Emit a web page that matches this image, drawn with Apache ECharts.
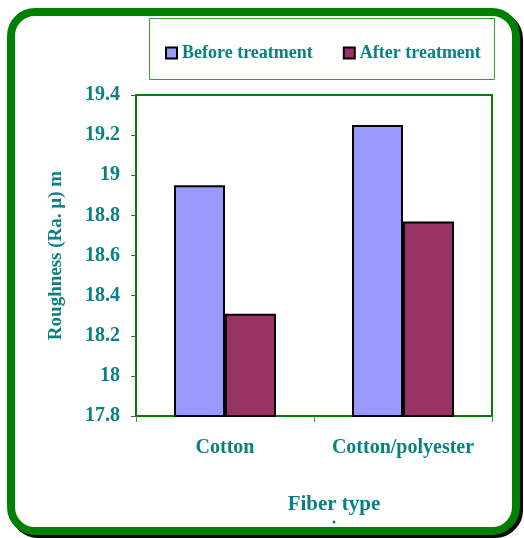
<!DOCTYPE html>
<html style="height: 100%">
<head>
    <meta charset="utf-8">
</head>
<body style="height: 100%; margin: 0; background: #fff">
<div id="container" style="width: 524px; height: 538px"></div>
<script type="text/javascript" src="https://cdn.jsdelivr.net/npm/echarts@6/dist/echarts.min.js"></script>
<script type="text/javascript">
    var categories = ['Cotton', 'Cotton/polyester'];
    var beforeValues = [18.95, 19.25];
    var afterValues = [18.31, 18.77];
    var seriesNames = ['Before treatment', 'After treatment'];

    var teal = '#0a8080';
    var green = '#008000';
    var font = 'Liberation Serif';

    var myChart = echarts.init(document.getElementById('container'));

    var option = {
        animation: false,
        textStyle: {fontFamily: font},
        grid: {
            left: 136, right: 32, top: 95, bottom: 122,
            show: true, borderColor: green, borderWidth: 2
        },
        legend: {
            data: seriesNames,
            left: 160, top: 39,
            icon: 'rect',
            itemWidth: 11, itemHeight: 11,
            itemGap: 30,
            textStyle: {color: teal, fontFamily: font, fontWeight: 'bold', fontSize: 18}
        },
        xAxis: {
            type: 'category',
            data: categories,
            name: 'Fiber type',
            nameLocation: 'middle',
            nameGap: 78,
            nameTextStyle: {color: teal, fontFamily: font, fontWeight: 'bold', fontSize: 21, padding: [0, 0, 0, 40]},
            axisLine: {lineStyle: {color: green, width: 2}},
            axisTick: {show: true, length: 6, lineStyle: {color: '#339933'}},
            axisLabel: {color: teal, fontFamily: font, fontWeight: 'bold', fontSize: 20, margin: 22,
                interval: 0, hideOverlap: false}
        },
        yAxis: {
            type: 'value',
            min: 17.8, max: 19.4, interval: 0.2,
            name: 'Roughness (Ra. \u00b5) m',
            nameLocation: 'middle',
            nameGap: 70,
            nameTextStyle: {color: teal, fontFamily: font, fontWeight: 'bold', fontSize: 19},
            axisLine: {show: true, lineStyle: {color: green, width: 2}},
            axisTick: {show: true, length: 5, lineStyle: {color: '#555555'}},
            splitLine: {show: false},
            axisLabel: {
                color: teal, fontFamily: font, fontWeight: 'bold', fontSize: 20, margin: 16,
                formatter: function (v) { return String(Math.round(v * 10) / 10); }
            }
        },
        series: [{
            name: seriesNames[0],
            type: 'bar',
            data: beforeValues,
            barWidth: 51,
            barGap: '0%',
            itemStyle: {color: '#9999ff', borderColor: '#000', borderWidth: 2}
        }, {
            name: seriesNames[1],
            type: 'bar',
            data: afterValues,
            barWidth: 51,
            itemStyle: {color: '#993366', borderColor: '#000', borderWidth: 2}
        }],
        graphic: [
            // outer frame: dark shadow then green rounded border
            {type: 'rect', z: -2, shape: {x: 14, y: 15, width: 505, height: 519, r: 24},
                style: {fill: 'none', stroke: '#000', lineWidth: 8}},
            {type: 'rect', z: -1, shape: {x: 11, y: 12, width: 505, height: 519, r: 24},
                style: {fill: '#fff', stroke: green, lineWidth: 8}},
            // legend box
            {type: 'rect', z: 0, shape: {x: 149.5, y: 18.5, width: 345, height: 61},
                style: {fill: 'none', stroke: '#33a033', lineWidth: 1}},
            {type: 'circle', z: 0, shape: {cx: 334, cy: 522, r: 1.5}, style: {fill: teal}}
        ]
    };

    myChart.setOption(option);
</script>
</body>
</html>
